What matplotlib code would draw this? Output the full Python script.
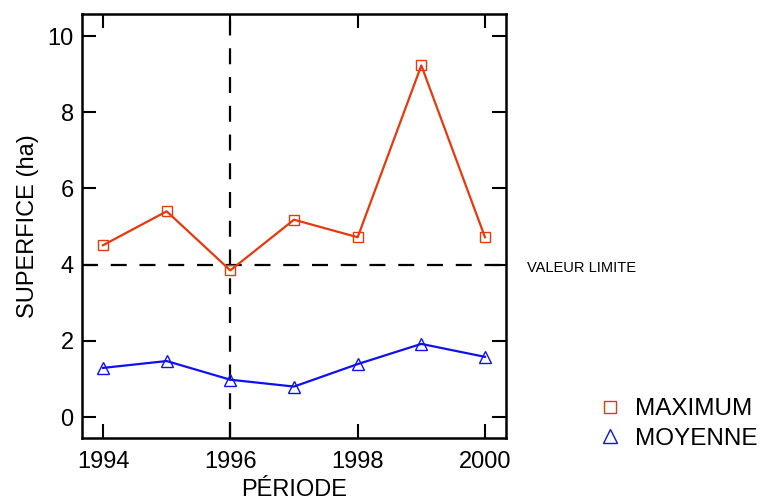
import matplotlib
matplotlib.use("Agg")
import matplotlib.pyplot as plt
from matplotlib.lines import Line2D

plt.rcParams['font.family'] = ['Liberation Sans', 'DejaVu Sans']
plt.rcParams['lines.scale_dashes'] = False

years = [1994, 1995, 1996, 1997, 1998, 1999, 2000]
maximum = [4.51, 5.40, 3.85, 5.18, 4.72, 9.23, 4.72]
moyenne = [1.29, 1.47, 0.98, 0.80, 1.39, 1.92, 1.58]
limit_value = 4.0
ref_year = 1996
x_ticks = [1994, 1996, 1998, 2000]
y_ticks = [0, 2, 4, 6, 8, 10]

red = '#e8380d'
blue = '#1010f0'

fig = plt.figure(figsize=(7.62, 5.0), dpi=100)
ax = fig.add_axes([82/762, 1-438/500, (506-82)/762, (438-14)/500])

dash = (0, (11.5, 9.2))
ax.axhline(limit_value, color='black', lw=1.6, linestyle=dash, zorder=1)
ax.axvline(ref_year, color='black', lw=1.6, linestyle=dash, zorder=1)

ax.plot(years, maximum, color=red, lw=1.6, marker='s', markersize=7,
        markerfacecolor='none', markeredgecolor=red, markeredgewidth=1.0, zorder=3)
ax.plot(years, moyenne, color=blue, lw=1.6, marker='^', markersize=8,
        markerfacecolor='none', markeredgecolor=blue, markeredgewidth=1.0, zorder=3)

ax.set_xlim(1993.67, 2000.33)
ax.set_ylim(-0.55, 10.58)
ax.set_xticks(x_ticks)
ax.set_yticks(y_ticks)
ax.tick_params(direction='in', length=10, width=1.5, top=True, right=True,
               labelsize=17, pad=6)
ax.tick_params(axis='x', pad=9)
for s in ax.spines.values():
    s.set_linewidth(1.8)

ax.set_xlabel('PÉRIODE', fontsize=17, labelpad=5)
ax.set_ylabel('SUPERFICE (ha)', fontsize=17, labelpad=6)

fig.text(527/762, 1-268/500, 'VALEUR LIMITE', fontsize=10.5, va='center', ha='left')

handles = [
    Line2D([], [], linestyle='none', marker='s', markersize=9, markerfacecolor='none',
           markeredgecolor=red, markeredgewidth=1.0),
    Line2D([], [], linestyle='none', marker='^', markersize=10, markerfacecolor='none',
           markeredgecolor=blue, markeredgewidth=1.0),
]
fig.legend(handles, ['MAXIMUM', 'MOYENNE'], loc='center left',
           bbox_to_anchor=(586/762, 1-424/500), frameon=False, fontsize=17.5,
           handlelength=1.0, handletextpad=0.5, labelspacing=0.3, borderpad=0)

fig.savefig('out.png', dpi=100)
